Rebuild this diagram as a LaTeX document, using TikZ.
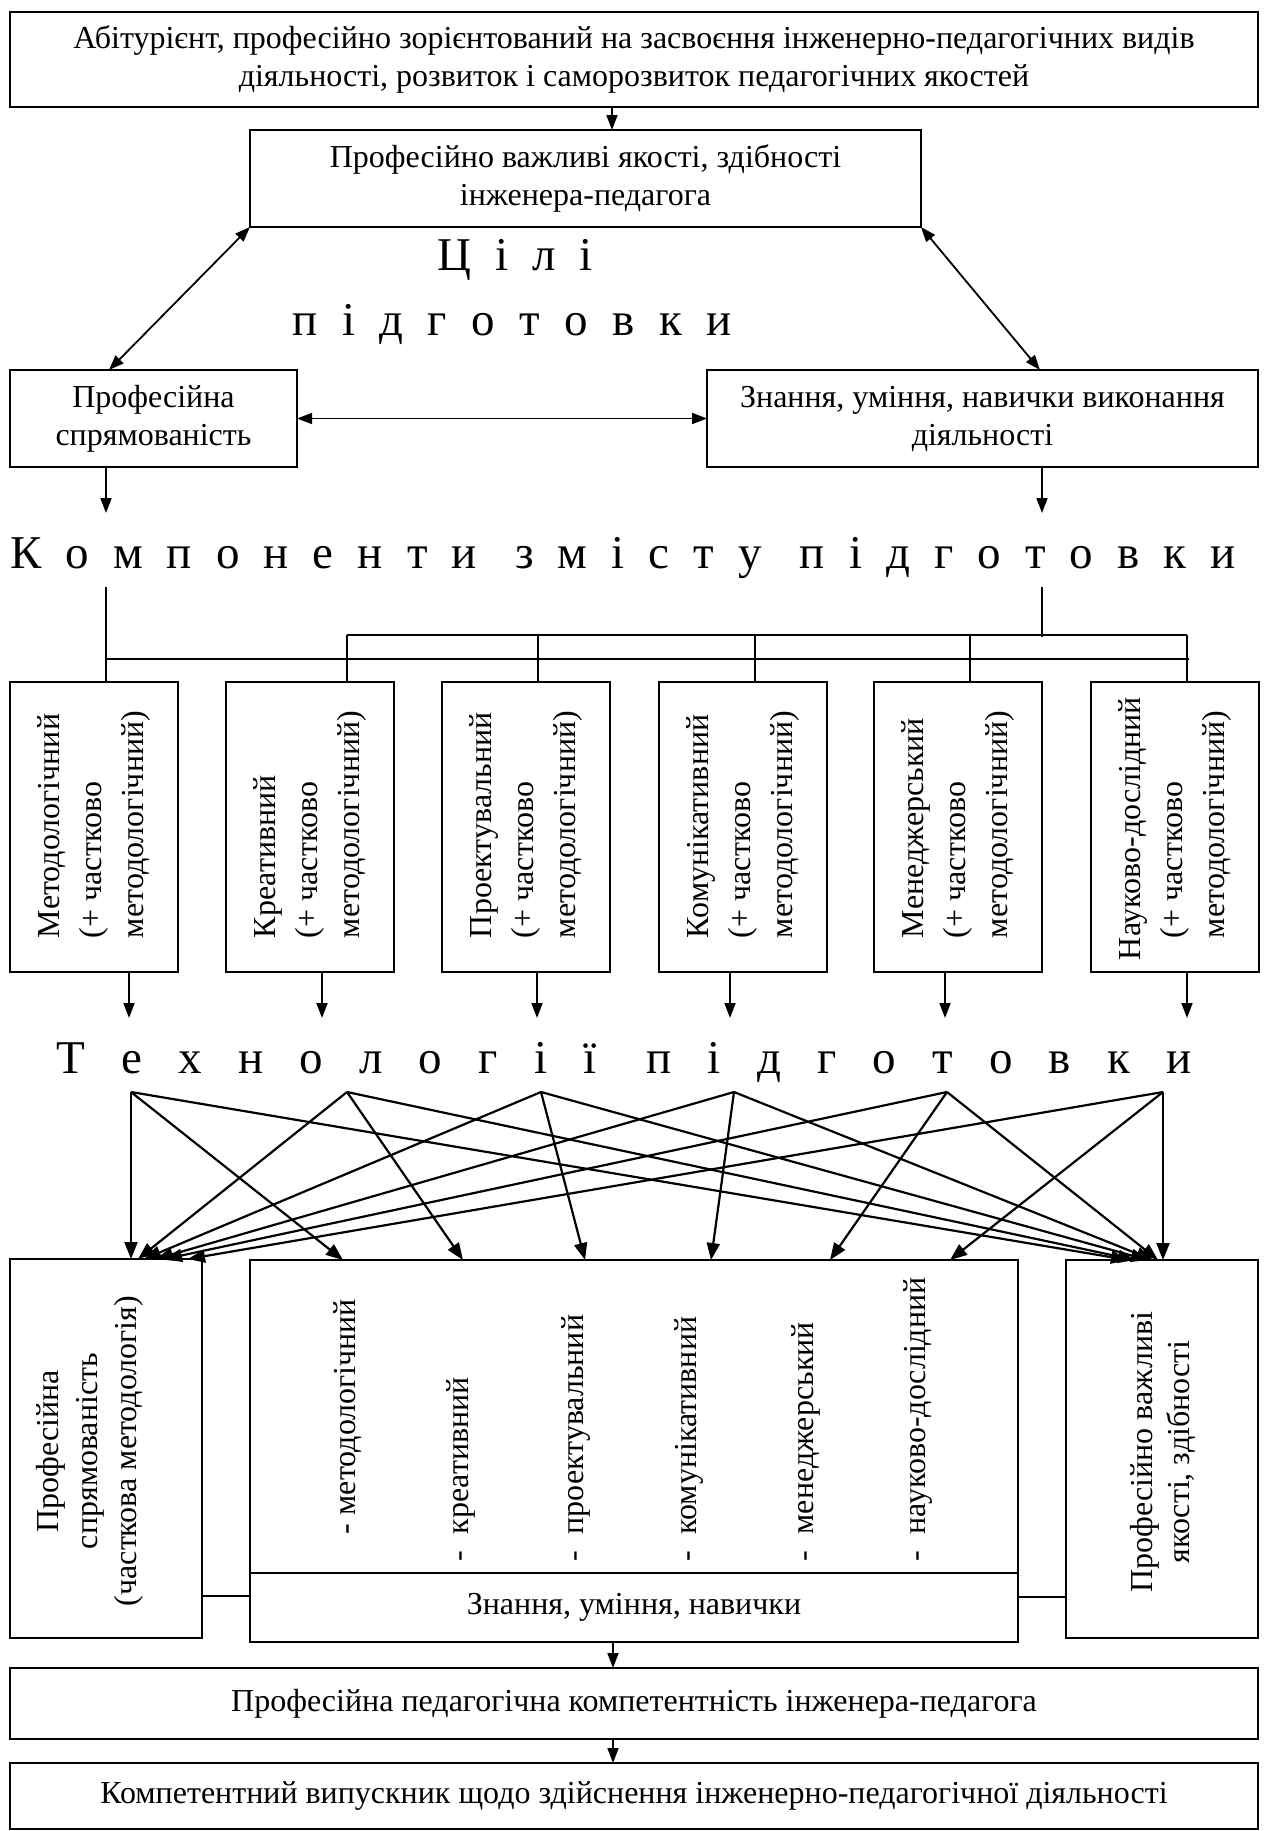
\documentclass[tikz,border=0pt]{standalone}
\usepackage{fontspec}
\setmainfont{Liberation Serif}
\usetikzlibrary{arrows.meta}
\newcommand\bodyfnt{\fontsize{32}{38}\selectfont}
\newcommand\ttlfnt{\fontsize{47}{56}\selectfont}
\newcommand\lsp{\hfill}
\newcommand\wsp{\hspace{14pt}\hfill}
\begin{document}
\begin{tikzpicture}[x=1pt,y=-1pt,
  box/.style={draw,line width=1.8pt,inner sep=0pt,outer sep=0pt,anchor=north west,align=center,font=\bodyfnt},
  txt/.style={inner sep=0pt,outer sep=0pt,font=\bodyfnt},
  rtxt/.style={inner sep=0pt,outer sep=0pt,rotate=90,anchor=west,align=left,font=\fontsize{32}{42}\selectfont},
  ttl/.style={inner sep=0pt,outer sep=0pt,font=\ttlfnt,anchor=base},
  arr/.style={line width=1.8pt,-{Triangle[length=15pt,width=11pt]}},
  darr/.style={line width=1.8pt,{Triangle[length=15pt,width=11pt]}-{Triangle[length=15pt,width=11pt]}},
  xarr/.style={line width=2.2pt,-{Triangle[length=17pt,width=13pt]}},
  ln/.style={line width=1.6pt}]
\useasboundingbox (0,0) rectangle (1267,1831);

% ---- upper part
\node[box,minimum width=1248pt,minimum height=95pt] (top) at (10,12)
  {Абітурієнт, професійно зорієнтований на засвоєння інженерно-педагогічних видів\\діяльності, розвиток і саморозвиток педагогічних якостей};
\node[box,minimum width=671pt,minimum height=97pt] (b2) at (250,130)
  {Професійно важливі якості, здібності\\інженера-педагога};
\node[box,minimum width=287pt,minimum height=97pt] (b3) at (10,370)
  {Професійна\\спрямованість};
\node[box,minimum width=551pt,minimum height=97pt] (b4) at (707,370)
  {Знання, уміння, навички виконання\\діяльності};

\node[ttl] (g1) at (515,270) {\makebox[156pt]{Ц\lsp і\lsp л\lsp і}};
\node[ttl] (g2) at (512,335) {\makebox[439pt]{п\lsp і\lsp д\lsp г\lsp о\lsp т\lsp о\lsp в\lsp к\lsp и}};

\draw[arr] ([xshift=602pt]top.south west) -- ([xshift=362pt]b2.north west);
\draw[darr] (b2.south west) -- ([xshift=99pt]b3.north west);
\draw[darr] (b2.south east) -- ([xshift=333pt]b4.north west);
\draw[darr] (b3.east) -- (b4.west);

\coordinate (e3) at (106,513);
\coordinate (e4) at (1042,513);
\draw[arr] ([xshift=96pt]b3.south west) -- (e3);
\draw[arr] ([xshift=335pt]b4.south west) -- (e4);

\node[ttl] (g3) at (623,568) {\makebox[1226pt]{К\lsp о\lsp м\lsp п\lsp о\lsp н\lsp е\lsp н\lsp т\lsp и\wsp з\lsp м\lsp і\lsp с\lsp т\lsp у\wsp п\lsp і\lsp д\lsp г\lsp о\lsp т\lsp о\lsp в\lsp к\lsp и}};

% ---- components
\node[box,minimum width=168pt,minimum height=290pt] (C1) at (10,682) {};
\node[box,minimum width=168pt,minimum height=290pt] (C2) at (226,682) {};
\node[box,minimum width=168pt,minimum height=290pt] (C3) at (442,682) {};
\node[box,minimum width=168pt,minimum height=290pt] (C4) at (659,682) {};
\node[box,minimum width=168pt,minimum height=290pt] (C5) at (874,682) {};
\node[box,minimum width=168pt,minimum height=290pt] (C6) at (1091,682) {};

\node[rtxt] (C1t) at (94,938) {Методологічний\\(+ частково\\методологічний)};
\node[rtxt] (C2t) at (310,938) {Креативний\\(+ частково\\методологічний)};
\node[rtxt] (C3t) at (526,938) {Проектувальний\\(+ частково\\методологічний)};
\node[rtxt] (C4t) at (743,938) {Комунікативний\\(+ частково\\методологічний)};
\node[rtxt] (C5t) at (958,938) {Менеджерський\\(+ частково\\методологічний)};
\node[rtxt] (C6t) at (1175,960) {Науково-дослідний\\\hspace*{22pt}(+ частково\\\hspace*{22pt}методологічний)};

\coordinate (k1) at (106,587);
\coordinate (k2) at (1042,587);
\coordinate (k3) at (1042,637);
\coordinate (h1) at (106,659);
\coordinate (h2) at (1189,659);
\coordinate (h3) at (347,635);
\coordinate (h4) at (1187,635);
\coordinate (v3) at (538,635);
\coordinate (v4) at (755,635);
\coordinate (v5) at (970,635);
\draw[ln] (k1) -- ([xshift=96pt]C1.north west);
\draw[ln] (k2) -- (k3);
\draw[ln] (h1) -- (h2);
\draw[ln] (h3) -- (h4);
\draw[ln] (h3) -- ([xshift=121pt]C2.north west);
\draw[ln] (v3) -- ([xshift=96pt]C3.north west);
\draw[ln] (v4) -- ([xshift=96pt]C4.north west);
\draw[ln] (v5) -- ([xshift=96pt]C5.north west);
\draw[ln] (h4) -- ([xshift=96pt]C6.north west);

\coordinate (d1) at (129,1018);
\coordinate (d2) at (322,1018);
\coordinate (d3) at (537,1018);
\coordinate (d4) at (730,1018);
\coordinate (d5) at (945,1018);
\coordinate (d6) at (1187,1018);
\draw[arr] ([xshift=119pt]C1.south west) -- (d1);
\draw[arr] ([xshift=96pt]C2.south west) -- (d2);
\draw[arr] ([xshift=95pt]C3.south west) -- (d3);
\draw[arr] ([xshift=71pt]C4.south west) -- (d4);
\draw[arr] ([xshift=71pt]C5.south west) -- (d5);
\draw[arr] ([xshift=96pt]C6.south west) -- (d6);

\node[ttl] (g4) at (624,1073) {\makebox[1135pt]{Т\lsp е\lsp х\lsp н\lsp о\lsp л\lsp о\lsp г\lsp і\lsp ї\wsp п\lsp і\lsp д\lsp г\lsp о\lsp т\lsp о\lsp в\lsp к\lsp и}};

% ---- lower part
\node[box,minimum width=192pt,minimum height=379pt] (L) at (10,1259) {};
\node[box,minimum width=768pt,minimum height=382pt] (M) at (250,1260) {};
\node[box,minimum width=192pt,minimum height=378pt] (R) at (1066,1260) {};

\node[txt,rotate=90,align=center,font=\fontsize{32}{39}\selectfont] (Lt) at (90,1451)
  {Професійна\\спрямованість\\(часткова методологія)};
\node[txt,rotate=90,align=center,font=\fontsize{32}{37}\selectfont] (Rt) at (1163,1452)
  {Професійно важливі\\якості, здібності};

\node[rtxt] (I1) at (348,1534) {- методологічний};
\node[rtxt] (I2) at (461,1561) {-\hspace{16pt}креативний};
\node[rtxt] (I3) at (576,1561) {-\hspace{16pt}проектувальний};
\node[rtxt] (I4) at (689,1561) {-\hspace{16pt}комунікативний};
\node[rtxt] (I5) at (806,1561) {-\hspace{16pt}менеджерський};
\node[rtxt] (I6) at (918,1561) {-\hspace{16pt}науково-дослідний};

\draw[ln] ([yshift=69pt]M.south west) -- ([yshift=69pt]M.south east);
\node[txt] (zn) at (634,1607) {Знання, уміння, навички};
\draw[ln] ([yshift=42pt]L.south east) -- ([yshift=46pt]M.south west);
\draw[ln] ([yshift=45pt]M.south east) -- ([yshift=41pt]R.south west);

\coordinate (s1) at (131,1092);
\coordinate (s2) at (347,1092);
\coordinate (s3) at (541,1092);
\coordinate (s4) at (734,1092);
\coordinate (s5) at (947,1092);
\coordinate (s6) at (1163,1092);
\draw[xarr] (s1) -- ([xshift=121pt]L.north west);
\draw[xarr] (s1) -- ([xshift=93pt]M.north west);
\draw[xarr] (s1) -- ([xshift=62pt]R.north west);
\draw[xarr] (s2) -- ([xshift=128pt]L.north west);
\draw[xarr] (s2) -- ([xshift=213pt]M.north west);
\draw[xarr] (s2) -- ([xshift=69pt]R.north west);
\draw[xarr] (s3) -- ([xshift=134pt]L.north west);
\draw[xarr] (s3) -- ([xshift=335pt]M.north west);
\draw[xarr] (s3) -- ([xshift=82pt]R.north west);
\draw[xarr] (s4) -- ([xshift=146pt]L.north west);
\draw[xarr] (s4) -- ([xshift=461pt]M.north west);
\draw[xarr] (s4) -- ([xshift=87pt]R.north west);
\draw[xarr] (s5) -- ([xshift=155pt]L.north west);
\draw[xarr] (s5) -- ([xshift=580pt]M.north west);
\draw[xarr] (s5) -- ([xshift=92pt]R.north west);
\draw[xarr] (s6) -- ([xshift=178pt]L.north west);
\draw[xarr] (s6) -- ([xshift=700pt]M.north west);
\draw[xarr] (s6) -- ([xshift=97pt]R.north west);

\node[box,minimum width=1248pt,minimum height=71pt] (P) at (10,1668)
  {Професійна педагогічна компетентність інженера-педагога};
\node[box,minimum width=1248pt,minimum height=66pt] (F) at (10,1763)
  {Компетентний випускник щодо здійснення інженерно-педагогічної діяльності};
\draw[arr] ([xshift=363pt]M.south west) -- ([xshift=603pt]P.north west);
\draw[arr] ([xshift=603pt]P.south west) -- ([xshift=603pt]F.north west);
\end{tikzpicture}
\end{document}
